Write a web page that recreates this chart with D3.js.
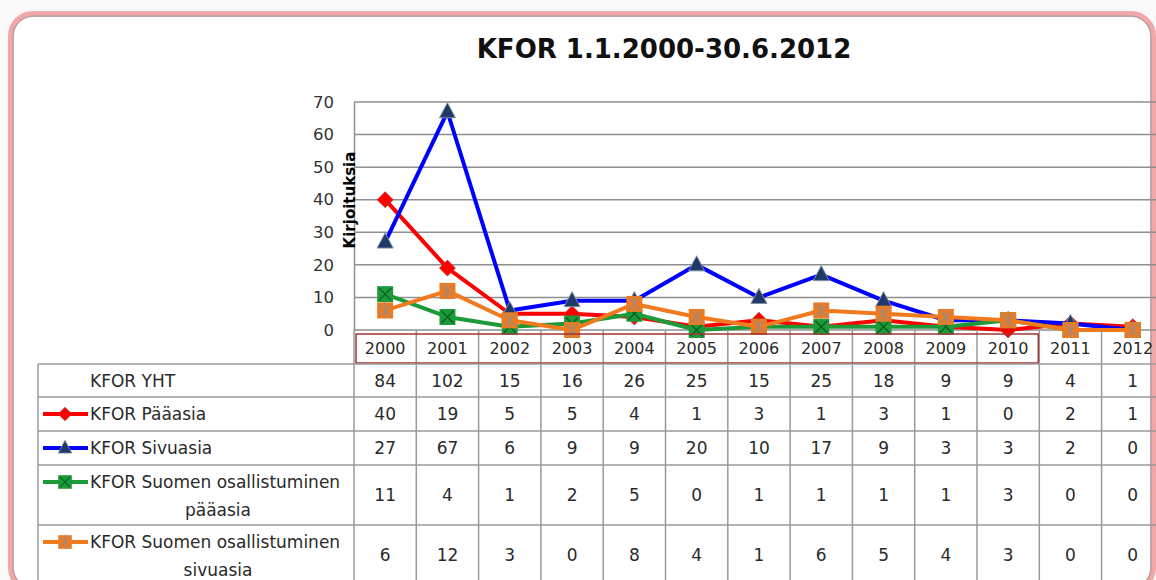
<!DOCTYPE html>
<html>
<head>
<meta charset="utf-8">
<script src="https://cdn.jsdelivr.net/npm/d3@7"></script>
<style>
  body { margin: 0; background: #f9f9f9; overflow: hidden; }
  svg { display: block; font-family: "DejaVu Sans", sans-serif; }
</style>
</head>
<body>
<script>
const width = 1156;
const height = 580;

const years = ["2000","2001","2002","2003","2004","2005","2006","2007","2008","2009","2010","2011","2012"];
const yhtValues = [84,102,15,16,26,25,15,25,18,9,9,4,1];
const paaasiaValues = [40,19,5,5,4,1,3,1,3,1,0,2,1];
const sivuasiaValues = [27,67,6,9,9,20,10,17,9,3,3,2,0];
const suomiPaaValues = [11,4,1,2,5,0,1,1,1,1,3,0,0];
const suomiSivuValues = [6,12,3,0,8,4,1,6,5,4,3,0,0];
const yTicks = [0,10,20,30,40,50,60,70];

const series = [
	{ name: ["KFOR Pääasia"], values: paaasiaValues, color: "#ff0000", marker: "diamond" },
	{ name: ["KFOR Sivuasia"], values: sivuasiaValues, color: "#0000ff", marker: "triangle" },
	{ name: ["KFOR Suomen osallistuminen", "pääasia"], values: suomiPaaValues, color: "#1c9a3a", marker: "squareX" },
	{ name: ["KFOR Suomen osallistuminen", "sivuasia"], values: suomiSivuValues, color: "#f07a1e", marker: "squareStar" }
];

const svg = d3.select("body").append("svg")
	.attr("width", width)
	.attr("height", height);

// frame
svg.append("rect")
	.attr("x", 11).attr("y", 14)
	.attr("width", 1142).attr("height", 576)
	.attr("rx", 22)
	.attr("fill", "#fff")
	.attr("stroke", "#f2a8a8")
	.attr("stroke-width", 6);
svg.append("rect")
	.attr("x", 13).attr("y", 16)
	.attr("width", 1138).attr("height", 572)
	.attr("rx", 20)
	.attr("fill", "none")
	.attr("stroke", "#a0a0a0")
	.attr("stroke-width", 1);

svg.append("text")
	.attr("x", 664).attr("y", 58)
	.attr("text-anchor", "middle")
	.attr("font-weight", "bold")
	.attr("font-size", 26)
	.attr("fill", "#111")
	.text("KFOR 1.1.2000-30.6.2012");

const x = d3.scaleBand().domain(years).range([354, 354 + 13 * 62.3]);
const y = d3.scaleLinear().domain([0, 70]).range([330, 102]);

// gridlines
svg.append("g")
	.selectAll("line")
	.data(yTicks.filter(d => d > 0))
	.enter().append("line")
	.attr("x1", 354).attr("x2", width)
	.attr("y1", d => y(d)).attr("y2", d => y(d))
	.attr("stroke", "#8e8e8e")
	.attr("stroke-width", 1.5);

const yAxis = svg.append("g")
	.attr("transform", "translate(354,0)")
	.call(d3.axisLeft(y).tickValues(yTicks).tickSize(0).tickPadding(20));
yAxis.select(".domain").attr("stroke", "#8e8e8e").attr("stroke-width", 1.5);
yAxis.selectAll("text")
	.attr("font-size", 16.5)
	.attr("font-family", "DejaVu Sans")
	.attr("fill", "#333");

svg.append("line")
	.attr("x1", 354).attr("x2", width)
	.attr("y1", 330).attr("y2", 330)
	.attr("stroke", "#8e8e8e").attr("stroke-width", 1.5);

svg.append("text")
	.attr("transform", "translate(355,200) rotate(-90)")
	.attr("text-anchor", "middle")
	.attr("font-weight", "bold")
	.attr("font-size", 15)
	.attr("fill", "#000")
	.text("Kirjoituksia");

// marker drawing
function drawMarker(g, type, color, cx, cy) {
	const m = g.append("g").attr("transform", `translate(${cx},${cy})`);
	if (type === "diamond") {
		m.append("path").attr("d", "M0,-8L8,0L0,8L-8,0Z")
			.attr("fill", color).attr("stroke", "#b04040").attr("stroke-width", 0.8);
	} else if (type === "triangle") {
		m.append("path").attr("d", "M0,-9L8,6L-8,6Z")
			.attr("fill", "#1f3a66").attr("stroke", "#8090a0").attr("stroke-width", 1);
	} else if (type === "squareX") {
		m.append("rect").attr("x", -8).attr("y", -8).attr("width", 16).attr("height", 16)
			.attr("fill", color);
		m.append("path").attr("d", "M-6,-6L6,6M6,-6L-6,6")
			.attr("stroke", "#0b5a1f").attr("stroke-width", 1.2);
	} else {
		m.append("rect").attr("x", -8).attr("y", -8).attr("width", 16).attr("height", 16)
			.attr("fill", color);
		m.append("path").attr("d", "M-6,-6L6,6M6,-6L-6,6M0,-8L0,8")
			.attr("stroke", "#9a8a80").attr("stroke-width", 1.2);
	}
}

const line = d3.line()
	.x((d, i) => x(years[i]) + x.bandwidth() / 2)
	.y(d => y(d));

series.forEach(s => {
	const g = svg.append("g");
	g.append("path")
		.datum(s.values)
		.attr("d", line)
		.attr("fill", "none")
		.attr("stroke", s.color)
		.attr("stroke-width", 4)
		.attr("stroke-linejoin", "round");
	s.values.forEach((v, i) => drawMarker(g, s.marker, s.color, x(years[i]) + x.bandwidth() / 2, y(v)));
});

// data table
const rowTops = [364, 397, 431, 465, 525];
const rowBottoms = [397, 431, 465, 525, 585];
const rows = [
	{ name: ["KFOR YHT"], values: yhtValues, marker: null },
	...series
];
const tableLeft = 38;
const gridColor = "#9a9a9a";
const textColor = "#2a2a2a";
const table = svg.append("g");

// header cells
years.forEach(yr => {
	table.append("line")
		.attr("x1", x(yr) + x.bandwidth()).attr("x2", x(yr) + x.bandwidth())
		.attr("y1", 330).attr("y2", 585)
		.attr("stroke", gridColor).attr("stroke-width", 1.5);
	table.append("text")
		.attr("x", x(yr) + x.bandwidth() / 2).attr("y", 354)
		.attr("text-anchor", "middle")
		.attr("font-size", 16)
		.attr("fill", textColor)
		.text(yr);
});
table.append("line")
	.attr("x1", 354).attr("x2", 354)
	.attr("y1", 330).attr("y2", 585)
	.attr("stroke", gridColor).attr("stroke-width", 1.5);
table.append("line")
	.attr("x1", tableLeft).attr("x2", tableLeft)
	.attr("y1", 364).attr("y2", 585)
	.attr("stroke", gridColor).attr("stroke-width", 1.5);
table.append("rect")
	.attr("x", x("2000") + 2).attr("y", 334)
	.attr("width", x("2010") + x.bandwidth() - x("2000") - 3).attr("height", 29)
	.attr("fill", "none")
	.attr("stroke", "#a33535")
	.attr("stroke-width", 1.5);

rows.forEach((r, ri) => {
	const top = rowTops[ri];
	const bot = rowBottoms[ri];
	const mid = (top + bot) / 2;
	table.append("line")
		.attr("x1", tableLeft).attr("x2", width)
		.attr("y1", top).attr("y2", top)
		.attr("stroke", gridColor).attr("stroke-width", 1.5);
	if (r.name.length === 1) {
		table.append("text")
			.attr("x", 90).attr("y", mid + 6)
			.attr("font-size", 17)
			.attr("fill", textColor)
			.text(r.name[0]);
	} else {
		table.append("text")
			.attr("x", 90).attr("y", mid - 7)
			.attr("font-size", 17)
			.attr("fill", textColor)
			.text(r.name[0]);
		table.append("text")
			.attr("x", 218).attr("y", mid + 21)
			.attr("text-anchor", "middle")
			.attr("font-size", 17)
			.attr("fill", textColor)
			.text(r.name[1]);
	}
	if (r.marker) {
		const ly = r.name.length === 1 ? mid : mid - 13;
		table.append("line")
			.attr("x1", 43).attr("x2", 88)
			.attr("y1", ly).attr("y2", ly)
			.attr("stroke", r.color).attr("stroke-width", 4);
		const mg = table.append("g");
		drawMarker(mg, r.marker, r.color, 65, ly);
		mg.attr("transform", `translate(65,${ly}) scale(0.85) translate(-65,${-ly})`);
	}
	r.values.forEach((v, i) => {
		table.append("text")
			.attr("x", x(years[i]) + x.bandwidth() / 2).attr("y", mid + 6)
			.attr("text-anchor", "middle")
			.attr("font-size", 17)
			.attr("fill", textColor)
			.text(v);
	});
});
</script>
</body>
</html>
